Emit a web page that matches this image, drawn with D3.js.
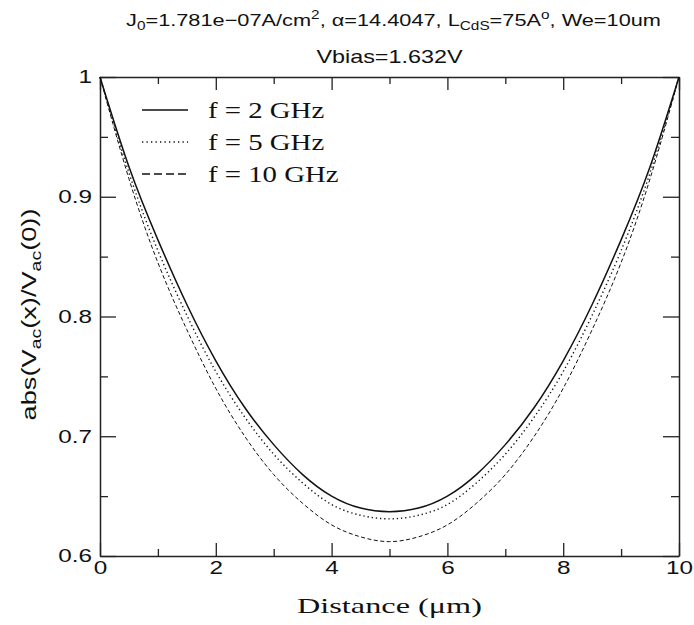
<!DOCTYPE html>
<html>
<head>
<meta charset="utf-8">
<script src="https://cdn.jsdelivr.net/npm/d3@7"></script>
<style>
  body { margin: 0; background: #fff; }
  svg { display: block; }
</style>
</head>
<body>
<div id="chart"></div>
<script>
// Distance along the line (um)
const distance = [0, 0.5, 1, 1.5, 2, 2.5, 3, 3.5, 4, 4.5, 5, 5.5, 6, 6.5, 7, 7.5, 8, 8.5, 9, 9.5, 10];

// abs(Vac(x)/Vac(0))
const f2GHz  = [1.000, 0.925, 0.864, 0.810, 0.763, 0.724, 0.693, 0.668, 0.650, 0.640, 0.637,
                0.640, 0.650, 0.668, 0.693, 0.724, 0.763, 0.810, 0.864, 0.925, 1.000];
const f5GHz  = [1.000, 0.920, 0.855, 0.801, 0.754, 0.716, 0.685, 0.661, 0.643, 0.634, 0.631,
                0.634, 0.643, 0.661, 0.685, 0.716, 0.754, 0.801, 0.855, 0.920, 1.000];
const f10GHz = [1.000, 0.915, 0.845, 0.789, 0.740, 0.700, 0.668, 0.644, 0.626, 0.616, 0.612,
                0.616, 0.626, 0.644, 0.668, 0.700, 0.740, 0.789, 0.845, 0.915, 1.000];

const seriesNames = ["f = 2 GHz", "f = 5 GHz", "f = 10 GHz"];

const xMajor = [0, 2, 4, 6, 8, 10];
const xMinor = [1, 3, 5, 7, 9];
const yMajor = [0.6, 0.7, 0.8, 0.9, 1];
const yMinor = [0.65, 0.75, 0.85, 0.95];

const width = 694, height = 625;
const margin = { top: 77, right: 15, bottom: 69, left: 100 };
const innerW = width - margin.left - margin.right;
const innerH = height - margin.top - margin.bottom;

// the original plot is stretched sideways, so text is widened to match
const sx = 1.35;

const svg = d3.select("#chart").append("svg")
    .attr("width", width)
    .attr("height", height);

const g = svg.append("g")
    .attr("transform", `translate(${margin.left},${margin.top})`);

const x = d3.scaleLinear().domain([0, 10]).range([0, innerW]);
const y = d3.scaleLinear().domain([0.6, 1]).range([innerH, 0]);

const sans = "'Liberation Sans', Arial, sans-serif";
const serif = "'Liberation Serif', 'Times New Roman', serif";

// axes: ticks point inward on all four sides
function drawAxis(axisFn, major, minor, majorLen, minorLen, transform, withLabels, fmt) {
    const gm = g.append("g").attr("transform", transform)
        .call(axisFn(major).tickSizeInner(-majorLen).tickSizeOuter(0).tickPadding(6)
            .tickFormat(withLabels ? fmt : () => ""));
    g.append("g").attr("transform", transform)
        .call(axisFn(minor).tickSizeInner(-minorLen).tickSizeOuter(0).tickFormat(() => ""))
        .select(".domain").remove();
    gm.select(".domain").attr("stroke", "#222").attr("stroke-width", 1.5);
    g.selectAll(".tick line").attr("stroke", "#222").attr("stroke-width", 1.3);
    gm.selectAll("text").style("font-family", sans).style("font-size", "18px").attr("fill", "#111");
    return gm;
}

const xAx = drawAxis(v => d3.axisBottom(x).tickValues(v), xMajor, xMinor, 13, 7, `translate(0,${innerH})`, true, d3.format("d"));
xAx.selectAll("text").attr("y", 5).attr("transform", `scale(${sx},1)`);
drawAxis(v => d3.axisTop(x).tickValues(v), xMajor, xMinor, 13, 7, "translate(0,0)", false);
const yAx = drawAxis(v => d3.axisLeft(y).tickValues(v), yMajor, yMinor, 16, 8, "translate(0,0)", true, d => d === 1 ? "1" : d3.format(".1f")(d));
yAx.selectAll("text").attr("x", -8 / sx).attr("transform", `scale(${sx},1)`);
drawAxis(v => d3.axisRight(y).tickValues(v), yMajor, yMinor, 16, 8, `translate(${innerW},0)`, false);

// lines
const styles = [
    { data: f2GHz,  dash: null,      w: 1.5 },
    { data: f5GHz,  dash: "1.3,2.9", w: 1.4 },
    { data: f10GHz, dash: "4,2.5",   w: 1.0 }
];

const line = d3.line()
    .x(d => x(d[0]))
    .y(d => y(d[1]))
    .curve(d3.curveNatural);

styles.forEach(s => {
    g.append("path")
        .datum(distance.map((d, i) => [d, s.data[i]]))
        .attr("fill", "none")
        .attr("stroke", "#111")
        .attr("stroke-width", s.w)
        .attr("stroke-dasharray", s.dash)
        .attr("d", line);
});

// legend
const legendDash = [null, "1.3,3.2", "8,4"];
seriesNames.forEach((name, i) => {
    const ly = 33 + i * 32;
    g.append("line")
        .attr("x1", 42).attr("x2", 88)
        .attr("y1", ly).attr("y2", ly)
        .attr("stroke", "#111")
        .attr("stroke-width", i === 0 ? 1.5 : 1.3)
        .attr("stroke-dasharray", legendDash[i]);
    g.append("text")
        .attr("transform", `translate(108,${ly + 8}) scale(1.2,1)`)
        .style("font-family", serif)
        .style("font-size", "24px")
        .attr("fill", "#111")
        .text(name);
});

// titles
const cx = margin.left + innerW / 2;
const title1 = svg.append("text")
    .attr("transform", `translate(${cx + 4},26) scale(1.28,1)`)
    .attr("text-anchor", "middle")
    .style("font-family", sans).style("font-size", "17px").attr("fill", "#111");
title1.append("tspan").text("J");
title1.append("tspan").attr("dy", 4).style("font-size", "12px").text("0");
title1.append("tspan").attr("dy", -4).text("=1.781e\u221207A/cm");
title1.append("tspan").attr("dy", -7).style("font-size", "12px").text("2");
title1.append("tspan").attr("dy", 7).text(", \u03b1=14.4047, L");
title1.append("tspan").attr("dy", 4).style("font-size", "12px").text("CdS");
title1.append("tspan").attr("dy", -4).text("=75A");
title1.append("tspan").attr("dy", -7).style("font-size", "12px").text("o");
title1.append("tspan").attr("dy", 7).text(", We=10um");

svg.append("text")
    .attr("transform", `translate(${cx},63) scale(1.3,1)`)
    .attr("text-anchor", "middle")
    .style("font-family", sans).style("font-size", "18px").attr("fill", "#111")
    .text("Vbias=1.632V");

// x label
svg.append("text")
    .attr("transform", `translate(${cx},613) scale(${sx},1)`)
    .attr("text-anchor", "middle")
    .attr("textLength", 137)
    .attr("lengthAdjust", "spacingAndGlyphs")
    .style("font-family", serif).style("font-size", "20px").attr("fill", "#111")
    .text("Distance  (\u03bcm)");

// y label
const yl = svg.append("text")
    .attr("transform", `translate(36,${margin.top + innerH / 2 - 2}) rotate(-90)`)
    .attr("text-anchor", "middle")
    .attr("textLength", 212)
    .attr("lengthAdjust", "spacingAndGlyphs")
    .style("font-family", sans).style("font-size", "21px").attr("fill", "#111");
yl.append("tspan").text("abs(V");
yl.append("tspan").attr("dy", 5).style("font-size", "15px").text("ac");
yl.append("tspan").attr("dy", -5).text("(x)/V");
yl.append("tspan").attr("dy", 5).style("font-size", "15px").text("ac");
yl.append("tspan").attr("dy", -5).text("(0))");
</script>
</body>
</html>
